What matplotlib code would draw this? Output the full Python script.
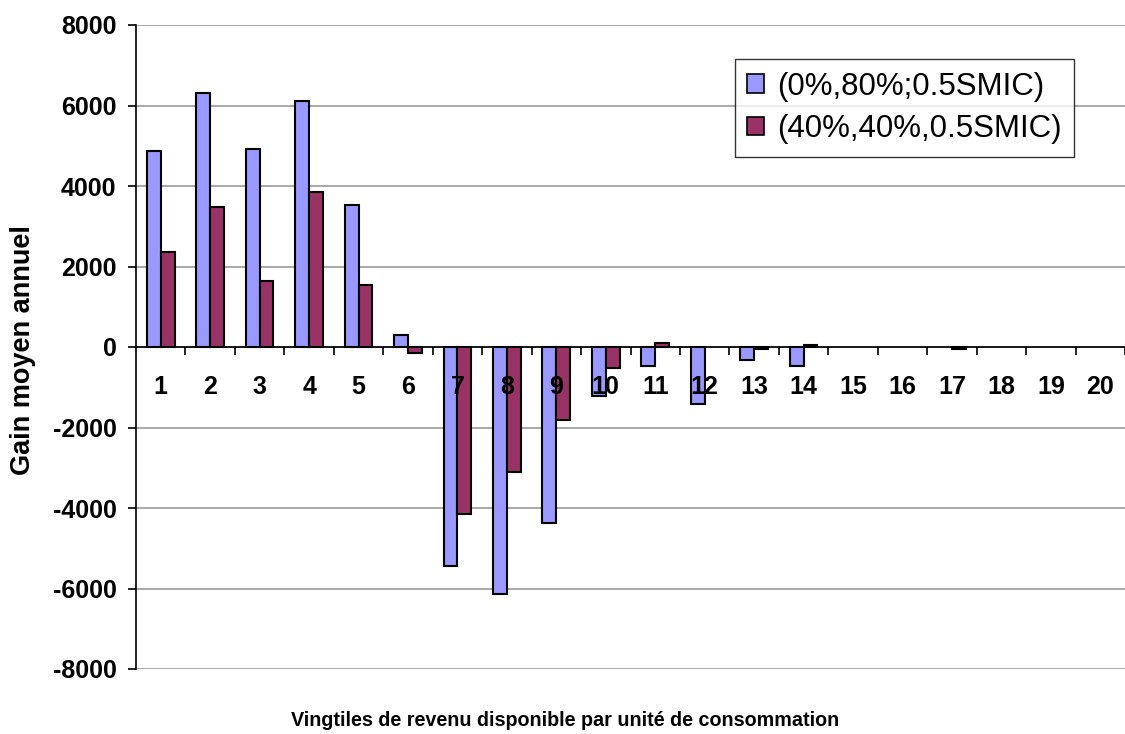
import matplotlib
matplotlib.use("Agg")
import matplotlib.pyplot as plt
import numpy as np

plt.rcParams['font.family'] = ['Liberation Sans', 'DejaVu Sans']

# vingtiles 1..20
vingtiles = list(range(1, 21))
gain_0_80 = [4880, 6300, 4930, 6120, 3540, 300, -5430, -6130, -4380, -1220,
             -470, -1405, -325, -470, 0, 0, 0, 0, 0, 0]
gain_40_40 = [2350, 3490, 1650, 3840, 1550, -160, -4150, -3100, -1810, -525,
              90, 0, -60, 60, 0, 0, -60, 0, 0, 0]
series_labels = ['(0%,80%;0.5SMIC)', '(40%,40%,0.5SMIC)']
y_ticks = [-8000, -6000, -4000, -2000, 0, 2000, 4000, 6000, 8000]

colours = ['#9999FF', '#993366']

fig = plt.figure(figsize=(11.25, 7.34), dpi=100)
ax = fig.add_axes([136 / 1125, 1 - 669 / 734, 1 - 136 / 1125, (669 - 25) / 734])

x = np.array(vingtiles)
w = 0.28
for offset, vals, col, lab in [(-w / 2, gain_0_80, colours[0], series_labels[0]),
                               (w / 2, gain_40_40, colours[1], series_labels[1])]:
    # empty values get no outline (Excel draws nothing there)
    lws = [1.5 if v != 0 else 0 for v in vals]
    ax.bar(x + offset, vals, width=w, color=col, edgecolor='black',
           linewidth=lws, label=lab, zorder=2)

ax.set_xlim(0.5, 0.5 + (1125 - 136) / 50)
ax.set_ylim(-8000, 8000)
ax.set_yticks(y_ticks)
ax.set_yticklabels([str(v) for v in y_ticks], fontsize=18, fontweight='bold')
for v in y_ticks:
    ax.axhline(v, color='#999999', linewidth=1.2, zorder=0.5)
# tick labels drawn over the bars, like the original
ax.set_axisbelow(False)

ax.spines['top'].set_visible(False)
ax.spines['right'].set_visible(False)
ax.spines['left'].set_linewidth(1.2)
ax.spines['bottom'].set_position(('data', 0))
ax.spines['bottom'].set_linewidth(1.2)
ax.spines['bottom'].set_zorder(3)

# category boundaries as tick marks, labels at centres
ax.set_xticks(np.arange(1.5, 21, 1.0))
ax.set_xticklabels([])
ax.tick_params(axis='x', which='major', length=6, width=1.2, direction='out')
ax.set_xticks(x, minor=True)
ax.set_xticklabels([str(v) for v in vingtiles], minor=True, fontsize=18,
                   fontweight='bold')
ax.tick_params(axis='x', which='minor', length=0, pad=20)
ax.tick_params(axis='y', length=6, width=1.2, pad=8)

leg = ax.legend(loc='upper right', bbox_to_anchor=(1074 / 1125, 1 - 59 / 734),
                bbox_transform=fig.transFigure, fontsize=22.5, frameon=True,
                fancybox=False, shadow=False, handlelength=0.55,
                handleheight=0.55, handletextpad=0.4, borderpad=0.4,
                labelspacing=0.4, borderaxespad=0)
leg.set_zorder(5)
leg.get_frame().set_edgecolor('black')
leg.get_frame().set_linewidth(1.0)
for h in leg.legend_handles:
    h.set_linewidth(1.2)

fig.text(23 / 1125, 1 - 350 / 734, 'Gain moyen annuel', rotation=90,
         ha='center', va='center', fontsize=19.5, fontweight='bold')
fig.text(565 / 1125, 1 - 721 / 734,
         'Vingtiles de revenu disponible par unité de consommation',
         ha='center', va='center', fontsize=14.2, fontweight='bold')

fig.savefig('out.png', dpi=100)
